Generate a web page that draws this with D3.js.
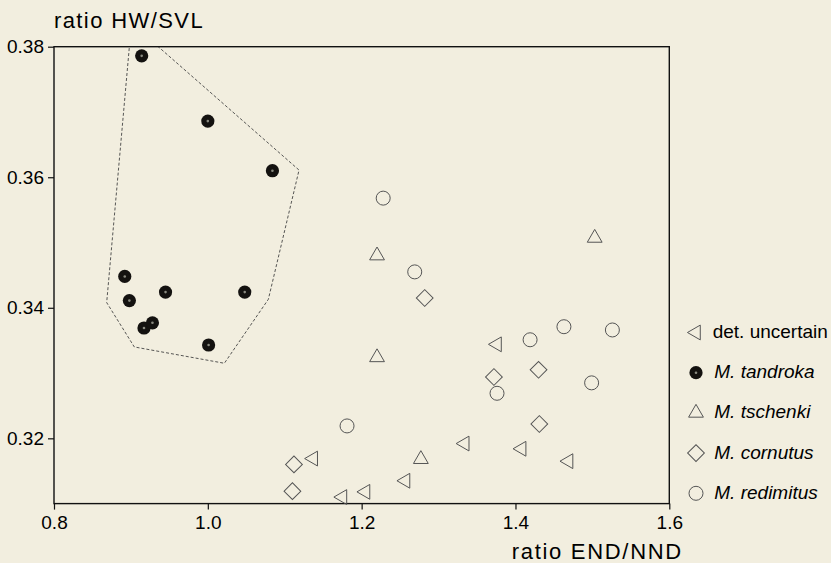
<!DOCTYPE html>
<html>
<head>
<meta charset="utf-8">
<script src="https://cdn.jsdelivr.net/npm/d3@7/dist/d3.min.js"></script>
<style>
  html, body { margin: 0; padding: 0; background: #f2eedf; }
  svg { display: block; font-family: "Liberation Sans", Arial, sans-serif; }
</style>
</head>
<body>
<svg id="chart" width="831" height="563"></svg>
<script>
// ---- data ----
const xTicks = [0.8, 1.0, 1.2, 1.4, 1.6];
const yTicks = [0.32, 0.34, 0.36, 0.38];
const xTitle = "ratio END/NND";
const yTitle = "ratio HW/SVL";

const detUncertainX = [1.376, 1.334, 1.408, 1.469, 1.137, 1.257, 1.205, 1.175];
const detUncertainY = [0.3344, 0.3192, 0.3184, 0.3165, 0.3169, 0.3135, 0.3118, 0.3110];

const tandrokaX = [0.914, 1.000, 1.084, 0.892, 0.898, 0.945, 1.048, 0.917, 0.928, 1.001];
const tandrokaY = [0.3786, 0.3686, 0.3610, 0.3448, 0.3411, 0.3424, 0.3424, 0.3369, 0.3377, 0.3343];

const tschenkiX = [1.220, 1.220, 1.277, 1.503];
const tschenkiY = [0.3480, 0.3324, 0.3168, 0.3507];

const cornutusX = [1.282, 1.372, 1.430, 1.431, 1.112, 1.110];
const cornutusY = [0.3415, 0.3294, 0.3305, 0.3222, 0.3160, 0.3119];

const redimitusX = [1.228, 1.269, 1.419, 1.463, 1.526, 1.499, 1.376, 1.181];
const redimitusY = [0.3568, 0.3455, 0.3351, 0.3371, 0.3366, 0.3285, 0.3269, 0.3219];

// envelope drawn around M. tandroka
const hullX = [0.9007, 0.8685, 0.9044, 1.0215, 1.0787, 1.1186];
const hullY = [0.3836, 0.3408, 0.3340, 0.3315, 0.3413, 0.3611];

const legendLabels = ["det. uncertain", "M. tandroka", "M. tschenki", "M. cornutus", "M. redimitus"];

// ---- layout ----
const svg = d3.select("#chart");
const pL = 54, pR = 669.3, pT = 46.7, pB = 503.6;
const x = d3.scaleLinear().domain([0.8, 1.6]).range([pL, pR]);
const y = d3.scaleLinear().domain([0.31, 0.38]).range([pB, pT]);

const stroke = "#555";

svg.append("defs").append("clipPath").attr("id", "clip")
  .append("rect").attr("x", pL).attr("y", pT)
  .attr("width", pR - pL).attr("height", pB - pT);

// hull
const hullPts = hullX.map((v, i) => [x(v), y(hullY[i])]);
svg.append("path")
  .attr("clip-path", "url(#clip)")
  .attr("d", d3.line()(hullPts) + "Z")
  .attr("fill", "none").attr("stroke", "#444").attr("stroke-width", 0.9)
  .attr("stroke-dasharray", "3,2");

// frame
svg.append("rect").attr("x", pL).attr("y", pT)
  .attr("width", pR - pL).attr("height", pB - pT)
  .attr("fill", "none").attr("stroke", "#111").attr("stroke-width", 1.4);

// axes
const xAxis = svg.append("g").attr("transform", `translate(0,${pB})`)
  .call(d3.axisBottom(x).tickValues(xTicks).tickFormat(d3.format(".1f")).tickSize(6).tickPadding(6));
const yAxis = svg.append("g").attr("transform", `translate(${pL},0)`)
  .call(d3.axisLeft(y).tickValues(yTicks).tickFormat(d3.format(".2f")).tickSize(6).tickPadding(4));
[xAxis, yAxis].forEach(a => {
  a.select(".domain").remove();
  a.selectAll("line").attr("stroke", "#111").attr("stroke-width", 1.2);
  a.selectAll("text").attr("fill", "#000").style("font-size", "19px")
   .style("font-family", '"Liberation Sans", Arial, sans-serif');
});

// titles
svg.append("text").attr("x", 54).attr("y", 28.3).text(yTitle)
  .style("font-size", "22px").style("letter-spacing", "1.4px").attr("fill", "#000");
svg.append("text").attr("x", 511.7).attr("y", 558.5).text(xTitle)
  .style("font-size", "22px").style("letter-spacing", "1.7px").attr("fill", "#000");

// symbols
const triPath = d3.symbol().type(d3.symbolTriangle).size(95)();
const diaPath = d3.symbol().type(d3.symbolSquare).size(140)();
const cirR = 7;

function drawLeftTri(g, px, py) {
  g.append("path").attr("d", triPath)
    .attr("transform", `translate(${px},${py}) rotate(-90)`)
    .attr("fill", "none").attr("stroke", stroke).attr("stroke-width", 1);
}
function drawTri(g, px, py) {
  g.append("path").attr("d", triPath)
    .attr("transform", `translate(${px},${py})`)
    .attr("fill", "none").attr("stroke", stroke).attr("stroke-width", 1);
}
function drawDia(g, px, py) {
  g.append("path").attr("d", diaPath)
    .attr("transform", `translate(${px},${py}) rotate(45)`)
    .attr("fill", "none").attr("stroke", stroke).attr("stroke-width", 1);
}
function drawCir(g, px, py) {
  g.append("circle").attr("cx", px).attr("cy", py).attr("r", cirR)
    .attr("fill", "none").attr("stroke", stroke).attr("stroke-width", 1);
}
function drawDot(g, px, py) {
  g.append("circle").attr("cx", px).attr("cy", py).attr("r", 6.6).attr("fill", "#141210");
  g.append("circle").attr("cx", px).attr("cy", py).attr("r", 1.3).attr("fill", "#8a8a80");
}

const marks = svg.append("g");
detUncertainX.forEach((v, i) => drawLeftTri(marks, x(v), y(detUncertainY[i])));
tschenkiX.forEach((v, i) => drawTri(marks, x(v), y(tschenkiY[i])));
cornutusX.forEach((v, i) => drawDia(marks, x(v), y(cornutusY[i])));
redimitusX.forEach((v, i) => drawCir(marks, x(v), y(redimitusY[i])));
tandrokaX.forEach((v, i) => drawDot(marks, x(v), y(tandrokaY[i])));

// legend
const leg = svg.append("g");
const drawers = [drawLeftTri, drawDot, drawTri, drawDia, drawCir];
legendLabels.forEach((lab, i) => {
  const cy = 332.5 + i * 40.2;
  drawers[i](leg, 696, cy);
  leg.append("text").attr("x", i === 0 ? 712.7 : 714.3).attr("y", cy + 5.5)
    .text(lab).attr("fill", "#000")
    .style("font-size", "19px")
    .style("font-style", i === 0 ? "normal" : "italic");
});
</script>
</body>
</html>
